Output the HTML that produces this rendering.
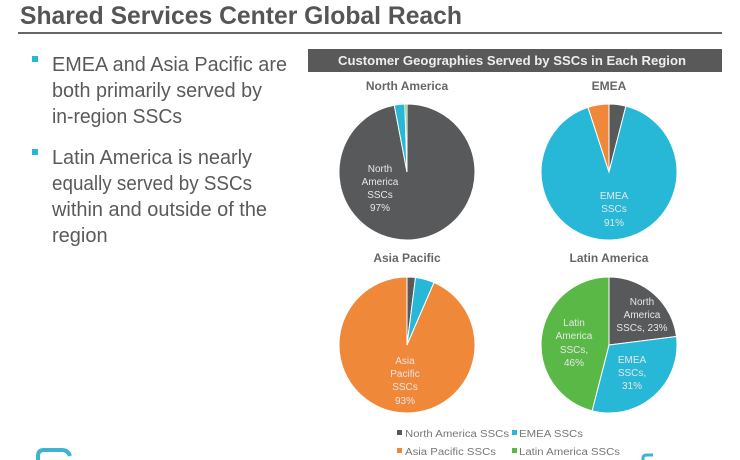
<!DOCTYPE html>
<html><head><meta charset="utf-8"><style>
html,body{margin:0;padding:0;background:#fff;}
body{width:740px;height:460px;overflow:hidden;position:relative;font-family:"Liberation Sans Narrow","Liberation Sans",sans-serif;}
</style></head><body>
<svg width="740" height="460" viewBox="0 0 740 460" xmlns="http://www.w3.org/2000/svg" style="position:absolute;left:0;top:0">
<text x="20" y="24" font-family="Liberation Sans Narrow, Liberation Sans, sans-serif" font-weight="bold" font-size="25" fill="#555" textLength="442" lengthAdjust="spacingAndGlyphs">Shared Services Center Global Reach</text>
<rect x="18" y="32" width="704" height="2" fill="#666"/>
<g font-family="Liberation Sans Narrow, Liberation Sans, sans-serif" font-size="20" fill="#5a5a5a">
<rect x="32" y="56" width="6" height="6" fill="#27b8d8"/>
<text x="52" y="71" textLength="235" lengthAdjust="spacingAndGlyphs">EMEA and Asia Pacific are</text>
<text x="52" y="97" textLength="210" lengthAdjust="spacingAndGlyphs">both primarily served by</text>
<text x="52" y="123" textLength="130" lengthAdjust="spacingAndGlyphs">in-region SSCs</text>
<rect x="32" y="149" width="6" height="6" fill="#27b8d8"/>
<text x="52" y="164" textLength="200" lengthAdjust="spacingAndGlyphs">Latin America is nearly</text>
<text x="52" y="190" textLength="200" lengthAdjust="spacingAndGlyphs">equally served by SSCs</text>
<text x="52" y="216" textLength="215" lengthAdjust="spacingAndGlyphs">within and outside of the</text>
<text x="52" y="242">region</text>
</g>
<rect x="308" y="49" width="414" height="23" fill="#595959"/>
<text x="512" y="65" text-anchor="middle" font-family="Liberation Sans, sans-serif" font-weight="bold" font-size="12.5" fill="#eee" textLength="348" lengthAdjust="spacingAndGlyphs">Customer Geographies Served by SSCs in Each Region</text>
<g font-family="Liberation Sans, sans-serif" font-weight="bold" font-size="12" fill="#666" text-anchor="middle">
<text x="407" y="90">North America</text>
<text x="609" y="90">EMEA</text>
<text x="407" y="262">Asia Pacific</text>
<text x="609" y="262">Latin America</text>
</g>
<g stroke="#fff" stroke-width="1">
<path d="M407,172 L407,104 A68,68 0 1 1 394.26,105.20 Z" fill="#58595b"/>
<path d="M407,172 L394.26,105.20 A68,68 0 0 1 404.86,104.03 Z" fill="#27b8d8"/>
<path d="M407,172 L404.86,104.03 A68,68 0 0 1 407,104 Z" fill="#5ab946"/>
<path d="M609,172 L609,104 A68,68 0 0 1 625.91,106.13 Z" fill="#58595b"/>
<path d="M609,172 L625.91,106.13 A68,68 0 1 1 587.99,107.33 Z" fill="#27b8d8"/>
<path d="M609,172 L587.99,107.33 A68,68 0 0 1 609,104 Z" fill="#f0883a"/>
<path d="M407,345 L407,277 A68,68 0 0 1 415.52,277.54 Z" fill="#58595b"/>
<path d="M407,345 L415.52,277.54 A68,68 0 0 1 434.00,282.59 Z" fill="#27b8d8"/>
<path d="M407,345 L434.00,282.59 A68,68 0 1 1 407,277 Z" fill="#f0883a"/>
<path d="M609,345 L609,277 A68,68 0 0 1 676.46,336.48 Z" fill="#58595b"/>
<path d="M609,345 L676.46,336.48 A68,68 0 0 1 592.09,410.86 Z" fill="#27b8d8"/>
<path d="M609,345 L592.09,410.86 A68,68 0 0 1 609,277 Z" fill="#5ab946"/>
</g>
<g font-family="Liberation Sans, sans-serif" font-size="10" fill="#e6e6e6" text-anchor="middle">
<text x="380" y="172">North</text><text x="380" y="185">America</text><text x="380" y="198">SSCs</text><text x="380" y="211">97%</text>
<text x="614" y="199">EMEA</text><text x="614" y="212">SSCs</text><text x="614" y="226">91%</text>
<text x="405" y="364">Asia</text><text x="405" y="377">Pacific</text><text x="405" y="390">SSCs</text><text x="405" y="404">93%</text>
<text x="574" y="326">Latin</text><text x="574" y="339">America</text><text x="574" y="353">SSCs,</text><text x="574" y="366">46%</text>
<text x="642" y="305">North</text><text x="642" y="318">America</text><text x="642" y="331">SSCs, 23%</text>
<text x="632" y="363">EMEA</text><text x="632" y="376">SSCs,</text><text x="632" y="389">31%</text>
</g>
<g font-family="Liberation Sans, sans-serif" font-size="10" fill="#777">
<rect x="397" y="430" width="5" height="5" fill="#58595b"/><text x="405" y="437" textLength="104" lengthAdjust="spacingAndGlyphs">North America SSCs</text>
<rect x="512" y="430" width="5" height="5" fill="#27b8d8"/><text x="519" y="437" textLength="64" lengthAdjust="spacingAndGlyphs">EMEA SSCs</text>
<rect x="397" y="448" width="5" height="5" fill="#f0883a"/><text x="405" y="455" textLength="91" lengthAdjust="spacingAndGlyphs">Asia Pacific SSCs</text>
<rect x="512" y="448" width="5" height="5" fill="#5ab946"/><text x="519" y="455" textLength="101" lengthAdjust="spacingAndGlyphs">Latin America SSCs</text>
</g>
<path d="M38,462 L38,456 Q38,450 44,450 L62,450 Q68,450 70,456" fill="none" stroke="#3fb3cf" stroke-width="4"/>
<path d="M643,462 L643,458 Q643,455 647,455 L653,455" fill="none" stroke="#3fb3cf" stroke-width="3"/>
</svg>
</body></html>
